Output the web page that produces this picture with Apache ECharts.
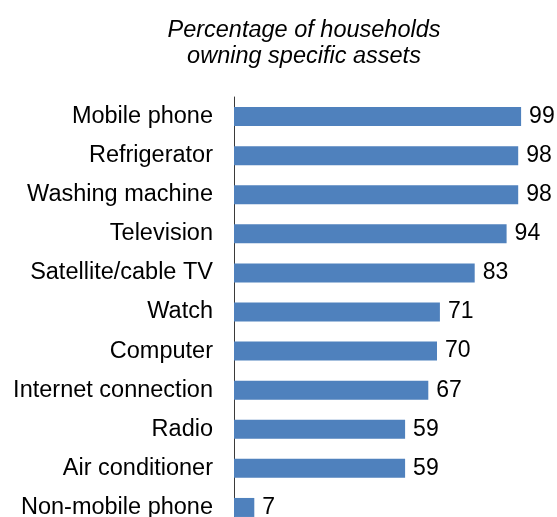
<!DOCTYPE html>
<html>
<head>
<meta charset="utf-8">
<script src="https://cdn.jsdelivr.net/npm/echarts@6/dist/echarts.min.js"></script>
<style>
html,body{margin:0;padding:0;background:#fff;overflow:hidden;}
#chart{width:557px;height:530px;}
</style>
</head>
<body>
<div id="chart"></div>
<script>
const titleLines = ['Percentage of households', 'owning specific assets'];
const categories = ['Mobile phone', 'Refrigerator', 'Washing machine', 'Television', 'Satellite/cable TV', 'Watch', 'Computer', 'Internet connection', 'Radio', 'Air conditioner', 'Non-mobile phone'];
const values = [99, 98, 98, 94, 83, 71, 70, 67, 59, 59, 7];

const chart = echarts.init(document.getElementById('chart'), null, {renderer: 'canvas'});
chart.setOption({
  animation: false,
  backgroundColor: '#fff',
  title: {
    text: titleLines.join('\n'),
    left: 299,
    textAlign: 'center',
    top: 12,
    textStyle: {
      fontFamily: 'Liberation Sans, Arial, sans-serif',
      fontStyle: 'italic',
      fontWeight: 'normal',
      fontSize: 23.5,
      lineHeight: 26,
      color: '#000'
    }
  },
  grid: {left: 234, right: 33, top: 97, height: 430, containLabel: false},
  xAxis: {
    type: 'value', min: 0, max: 100, show: false
  },
  yAxis: {
    type: 'category',
    data: categories,
    inverse: true,
    axisLine: {show: true, lineStyle: {color: '#3a3a3a', width: 1}},
    axisTick: {show: false},
    splitLine: {show: false},
    axisLabel: {
      margin: 21,
      color: '#000',
      fontFamily: 'Liberation Sans, Arial, sans-serif',
      fontSize: 23.5
    }
  },
  series: [{
    type: 'bar',
    data: values,
    barWidth: 19,
    itemStyle: {color: '#4f81bd'},
    label: {
      show: true,
      position: 'right',
      distance: 8,
      color: '#000',
      fontFamily: 'Liberation Sans, Arial, sans-serif',
      fontSize: 23
    }
  }]
});
</script>
</body>
</html>
